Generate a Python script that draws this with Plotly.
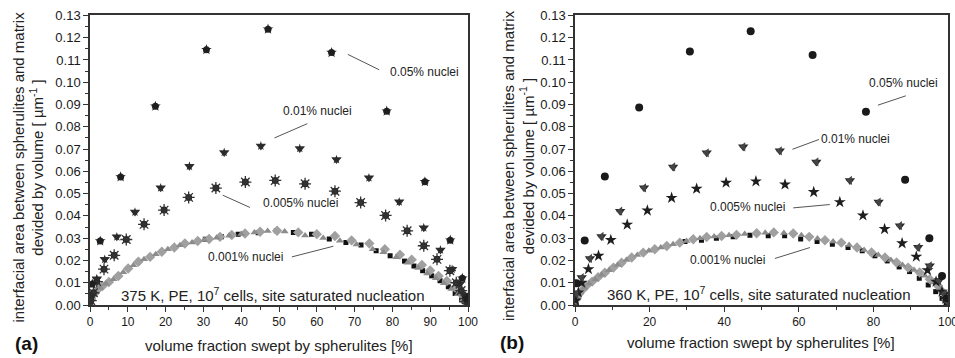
import plotly.graph_objects as go

# ---------------- data: panel (a) 375 K ----------------
a_005_x = [0.6, 2.7, 8.1, 17.3, 30.8, 47.1, 63.9, 78.5, 88.6, 95.3, 98.5, 99.7]
a_005_y = [0.0094, 0.0287, 0.0575, 0.0892, 0.1146, 0.1238, 0.1133, 0.0870, 0.0553, 0.0291, 0.0120, 0.0030]

a_001_x = [0.4, 1.8, 3.9, 7.1, 11.9, 18.7, 26.3, 35.5, 45.2, 55.5, 65.2, 73.8, 81.8, 88.3, 92.7, 95.8, 97.9, 99.2, 99.8]
a_001_y = [0.0040, 0.0118, 0.0205, 0.0306, 0.0417, 0.0526, 0.0623, 0.0685, 0.0714, 0.0703, 0.0653, 0.0571, 0.0463, 0.0347, 0.0247, 0.0160, 0.0095, 0.0045, 0.0012]

a_0005_x = [0.2, 0.9, 1.8, 3.7, 6.4, 9.6, 14.3, 19.6, 26.1, 33.3, 41.1, 49.0, 56.9, 64.8, 71.6, 78.2, 83.9, 88.3, 91.8, 95.2, 96.9, 98.2, 99.3, 99.9]
a_0005_y = [0.0020, 0.0055, 0.0105, 0.0161, 0.0223, 0.0294, 0.0362, 0.0426, 0.0483, 0.0525, 0.0552, 0.0559, 0.0544, 0.0511, 0.0460, 0.0402, 0.0333, 0.0266, 0.0205, 0.0154, 0.0100, 0.0065, 0.0030, 0.0008]

a_0001_dia_x = [0.3, 1.0, 2.0, 3.3, 5.0, 7.5, 10.1, 12.8, 15.9, 19.0, 22.3, 25.1, 28.5, 31.5, 34.4, 37.5, 41.0, 45.0, 49.5,
                55.1, 60.0, 64.8, 69.2, 73.9, 78.0, 82.0, 85.1, 87.8, 90.0, 92.2, 94.4, 96.6, 98.3, 99.4]
a_0001_dia_y = [0.0025, 0.0048, 0.0068, 0.0085, 0.0103, 0.0130, 0.0164, 0.0194, 0.0216, 0.0239, 0.0258, 0.0276, 0.0287, 0.0296, 0.0306, 0.0314, 0.0321, 0.0329, 0.0333,
                0.0326, 0.0318, 0.0310, 0.0290, 0.0276, 0.0250, 0.0226, 0.0203, 0.0180, 0.0155, 0.0130, 0.0108, 0.0078, 0.0048, 0.0020]

a_0001_tri_x = [0.5, 1.5, 2.6, 4.2, 6.2, 8.8, 11.5, 14.3, 17.4, 20.6, 23.8, 27.0, 30.2, 33.5, 36.8, 40.0, 43.5, 47.0, 51.5,
                56.9, 61.7, 66.1, 70.5, 74.8, 77.6, 81.0, 84.0, 86.8, 89.2, 91.5, 93.6, 95.6, 97.3, 98.7, 99.6]
a_0001_tri_y = [0.0035, 0.0058, 0.0077, 0.0095, 0.0116, 0.0147, 0.0178, 0.0205, 0.0228, 0.0250, 0.0268, 0.0281, 0.0292, 0.0302, 0.0311, 0.0319, 0.0326, 0.0332, 0.0330,
                0.0312, 0.0301, 0.0289, 0.0272, 0.0250, 0.0237, 0.0214, 0.0190, 0.0166, 0.0142, 0.0120, 0.0098, 0.0072, 0.0048, 0.0025, 0.0008]

a_0001_sq_x = [0.2, 0.6, 30.5, 34.8, 39.2, 44.5, 49.3, 53.8, 58.6, 63.3, 67.7, 71.7, 75.7, 79.4, 83.2, 85.7, 88.0, 90.4, 92.6, 94.8, 96.6, 98.3, 99.3, 99.8]
a_0001_sq_y = [0.0012, 0.0030, 0.0295, 0.0306, 0.0318, 0.0324, 0.0333, 0.0326, 0.0318, 0.0296, 0.0281, 0.0269, 0.0244, 0.0221, 0.0197, 0.0175, 0.0154, 0.0131, 0.0109, 0.0082, 0.0052, 0.0023, 0.0010, 0.0003]

# ---------------- data: panel (b) 360 K ----------------
b_005_x = [0.4, 2.6, 8.0, 17.2, 30.8, 47.1, 63.7, 78.0, 88.5, 95.0, 98.4, 99.7]
b_005_y = [0.0098, 0.0290, 0.0577, 0.0887, 0.1138, 0.1229, 0.1122, 0.0867, 0.0562, 0.0300, 0.0130, 0.0030]

b_001_x = [0.3, 1.8, 4.0, 7.1, 12.1, 18.5, 26.3, 35.3, 45.1, 54.9, 64.7, 73.7, 81.4, 87.1, 92.0, 95.1, 97.6, 99.0, 99.8]
b_001_y = [0.0050, 0.0123, 0.0209, 0.0308, 0.0421, 0.0526, 0.0620, 0.0683, 0.0710, 0.0692, 0.0642, 0.0559, 0.0462, 0.0356, 0.0259, 0.0176, 0.0110, 0.0050, 0.0015]

b_0005_x = [0.2, 0.9, 1.8, 3.6, 6.3, 9.6, 14.0, 19.4, 25.9, 32.6, 40.5, 48.5, 56.3, 64.0, 71.0, 77.2, 83.0, 87.7, 91.5, 94.5, 96.8, 98.4, 99.4, 99.9]
b_0005_y = [0.0020, 0.0056, 0.0100, 0.0161, 0.0221, 0.0292, 0.0361, 0.0424, 0.0481, 0.0522, 0.0549, 0.0555, 0.0541, 0.0507, 0.0462, 0.0402, 0.0341, 0.0277, 0.0217, 0.0156, 0.0105, 0.0060, 0.0028, 0.0008]

b_0001_dia_x = [0.3, 1.0, 2.0, 3.0, 4.6, 6.2, 8.0, 10.3, 12.5, 15.2, 18.3, 21.4, 24.6, 28.1, 31.7, 35.3, 39.3, 43.3, 48.7,
                53.3, 58.5, 62.8, 67.0, 71.4, 75.6, 79.5, 83.1, 86.2, 89.3, 92.4, 95.1, 97.3, 98.7, 99.6]
b_0001_dia_y = [0.0025, 0.0048, 0.0068, 0.0085, 0.0105, 0.0125, 0.0145, 0.0168, 0.0190, 0.0213, 0.0235, 0.0250, 0.0265, 0.0280, 0.0295, 0.0305, 0.0310, 0.0315, 0.0322,
                0.0326, 0.0321, 0.0306, 0.0291, 0.0280, 0.0258, 0.0236, 0.0213, 0.0191, 0.0168, 0.0146, 0.0116, 0.0086, 0.0056, 0.0026]

b_0001_tri_x = [0.6, 1.5, 2.5, 3.8, 5.4, 7.1, 9.1, 11.4, 13.8, 16.7, 19.8, 23.0, 26.3, 29.9, 33.5, 37.3, 41.3, 45.5, 51.0,
                56.0, 60.7, 65.0, 69.2, 73.5, 77.5, 81.3, 84.7, 87.8, 90.9, 93.8, 96.2, 98.0, 99.2]
b_0001_tri_y = [0.0036, 0.0058, 0.0077, 0.0095, 0.0115, 0.0135, 0.0156, 0.0180, 0.0202, 0.0224, 0.0243, 0.0258, 0.0273, 0.0287, 0.0300, 0.0308, 0.0313, 0.0319, 0.0324,
                0.0323, 0.0313, 0.0298, 0.0285, 0.0269, 0.0247, 0.0225, 0.0202, 0.0180, 0.0157, 0.0131, 0.0101, 0.0071, 0.0040]

b_0001_sq_x = [0.2, 0.7, 29.5, 33.9, 37.9, 42.4, 46.9, 51.8, 56.2, 60.5, 64.9, 69.0, 73.2, 77.0, 80.4, 83.7, 86.9, 89.7, 92.3, 94.7, 96.7, 98.4, 99.5]
b_0001_sq_y = [0.0012, 0.0032, 0.0285, 0.0291, 0.0300, 0.0306, 0.0313, 0.0311, 0.0311, 0.0296, 0.0285, 0.0273, 0.0258, 0.0243, 0.0221, 0.0198, 0.0171, 0.0150, 0.0120, 0.0090, 0.0060, 0.0030, 0.0010]

series_labels = ["0.05% nuclei", "0.01% nuclei", "0.005% nuclei", "0.001% nuclei"]
panel_titles = ["375 K, PE, 10<sup>7</sup> cells, site saturated nucleation",
                "360 K, PE, 10<sup>7</sup> cells, site saturated nucleation"]
x_title = "volume fraction swept by spherulites [%]"
y_title = "interfacial area between spherulites and matrix<br>devided by volume [ µm<sup>-1</sup> ]"
y_ticks = [0.00, 0.01, 0.02, 0.03, 0.04, 0.05, 0.06, 0.07, 0.08, 0.09, 0.10, 0.11, 0.12, 0.13]

FONT = "Liberation Sans, Arial, sans-serif"
W, H = 955, 358

fig = go.Figure()


def sc(x, y, xa, ya, symbol, color, size, line_color=None, line_w=0):
    fig.add_trace(go.Scatter(
        x=x, y=y, mode="markers", xaxis=xa, yaxis=ya, showlegend=False,
        marker=dict(symbol=symbol, color=color, size=size,
                    line=dict(color=line_color or color, width=line_w))))


# panel (a)
sc(a_0001_sq_x, a_0001_sq_y, "x", "y", "square", "#111111", 5)
sc(a_0001_dia_x, a_0001_dia_y, "x", "y", "diamond", "#a0a0a0", 8)
sc(a_0001_tri_x, a_0001_tri_y, "x", "y", "triangle-up", "#8c8c8c", 7)
sc(a_0005_x, a_0005_y, "x", "y", "circle", "#222222", 7)
sc(a_0005_x, a_0005_y, "x", "y", "asterisk-open", "#333333", 10, "#333333", 1.3)
sc(a_001_x, a_001_y, "x", "y", "triangle-down", "#333333", 9)
sc(a_001_x, a_001_y, "x", "y", "star", "#2a2a2a", 7)
sc(a_005_x, a_005_y, "x", "y", "circle", "#262626", 7)
sc(a_005_x, a_005_y, "x", "y", "star", "#1e1e1e", 8)

# panel (b)
sc(b_0001_sq_x, b_0001_sq_y, "x2", "y2", "square", "#111111", 5)
sc(b_0001_dia_x, b_0001_dia_y, "x2", "y2", "diamond", "#a0a0a0", 8)
sc(b_0001_tri_x, b_0001_tri_y, "x2", "y2", "triangle-up", "#8c8c8c", 7)
sc(b_0005_x, b_0005_y, "x2", "y2", "star", "#1e1e1e", 9)
sc(b_001_x, b_001_y, "x2", "y2", "triangle-down", "#2a2a2a", 9)
sc(b_001_x, b_001_y, "x2", "y2", "triangle-left", "#444444", 8)
sc(b_005_x, b_005_y, "x2", "y2", "circle", "#1a1a1a", 8)

# axes
def yax(anchor):
    return dict(range=[0, 0.13], tickvals=y_ticks, tickformat=".2f", anchor=anchor,
                domain=[0.148, 0.957], showgrid=False, zeroline=False, automargin=False,
                showline=True, linecolor="#333", linewidth=1.5, mirror=True,
                ticks="outside", ticklen=5, tickwidth=1, tickcolor="#333",
                minor=dict(dtick=0.005, ticks="outside", ticklen=3, tickcolor="#333"),
                tickfont=dict(family=FONT, size=13, color="#1a1a1a"))


def xax(anchor, dom, dtick, mdtick, fs):
    return dict(range=[0, 100], dtick=dtick, tick0=0, anchor=anchor, domain=dom,
                showgrid=False, zeroline=False, automargin=False,
                ticklabeloverflow="allow",
                showline=True, linecolor="#333", linewidth=1.5, mirror=True,
                ticks="outside", ticklen=5, tickwidth=1, tickcolor="#333",
                minor=dict(dtick=mdtick, ticks="outside", ticklen=3, tickcolor="#333"),
                tickfont=dict(family=FONT, size=fs, color="#1a1a1a"))


fig.update_layout(
    width=W, height=H, margin=dict(l=0, r=0, t=0, b=0, autoexpand=False),
    paper_bgcolor="white", plot_bgcolor="white",
    font=dict(family=FONT, color="#222"),
    xaxis=xax("y", [90 / W, 468 / W], 10, 5, 12),
    yaxis=yax("x"),
    xaxis2=xax("y2", [575 / W, 948 / W], 20, 10, 12),
    yaxis2=yax("x2"),
)

ann = []
shapes = []


def label(xr, yr, x, y, text, size=12):
    ann.append(dict(xref=xr, yref=yr, x=x, y=y, text=text, showarrow=False,
                    font=dict(family=FONT, size=size, color="#222"),
                    xanchor="center", yanchor="middle"))


def leader(xr, yr, x0, y0, x1, y1):
    shapes.append(dict(type="line", xref=xr, yref=yr, x0=x0, y0=y0, x1=x1, y1=y1,
                       line=dict(color="#555", width=1)))


# panel (a) labels
label("x", "y", 88.4, 0.1044, series_labels[0])
leader("x", "y", 68.2, 0.1125, 76.5, 0.1056)
label("x", "y", 60.1, 0.0870, series_labels[1])
leader("x", "y", 48.8, 0.0750, 57.5, 0.0814)
label("x", "y", 55.7, 0.0456, series_labels[2])
leader("x", "y", 35.1, 0.0493, 42.3, 0.0438)
label("x", "y", 41.2, 0.0214, series_labels[3])
leader("x", "y", 53.4, 0.0216, 64.4, 0.0264)
label("x", "y", 48.4, 0.0048, panel_titles[0], 15)

# panel (b) labels
label("x2", "y2", 88.0, 0.0998, series_labels[0])
leader("x2", "y2", 81.2, 0.0897, 88.7, 0.0939)
label("x2", "y2", 75.1, 0.0744, series_labels[1])
leader("x2", "y2", 58.3, 0.0699, 65.4, 0.0743)
label("x2", "y2", 46.2, 0.0439, series_labels[2])
leader("x2", "y2", 58.5, 0.0436, 68.3, 0.0451)
label("x2", "y2", 40.8, 0.0202, series_labels[3])
leader("x2", "y2", 53.6, 0.0209, 63.0, 0.0258)
label("x2", "y2", 49.3, 0.0053, panel_titles[1], 15)

# axis titles and panel letters (paper coords)
for xc, yc, txt in [(279, 345, x_title), (761, 342, x_title)]:
    ann.append(dict(xref="paper", yref="paper", x=xc / W, y=1 - yc / H, text=txt,
                    showarrow=False, font=dict(family=FONT, size=15, color="#222"),
                    xanchor="center", yanchor="middle"))
for xc, yc in [(28.5, 167), (518, 166)]:
    ann.append(dict(xref="paper", yref="paper", x=xc / W, y=1 - yc / H, text=y_title,
                    showarrow=False, textangle=-90,
                    font=dict(family=FONT, size=15, color="#222"),
                    xanchor="center", yanchor="middle"))
for xc, yc, txt in [(26, 343, "<b>(a)</b>"), (512, 342, "<b>(b)</b>")]:
    ann.append(dict(xref="paper", yref="paper", x=xc / W, y=1 - yc / H, text=txt,
                    showarrow=False, font=dict(family=FONT, size=19, color="#111"),
                    xanchor="center", yanchor="middle"))

fig.update_layout(annotations=ann, shapes=shapes)
fig.write_html("out.html", config={"displayModeBar": False},
               post_script="document.body.style.margin='0px';document.body.style.overflow='hidden';")
